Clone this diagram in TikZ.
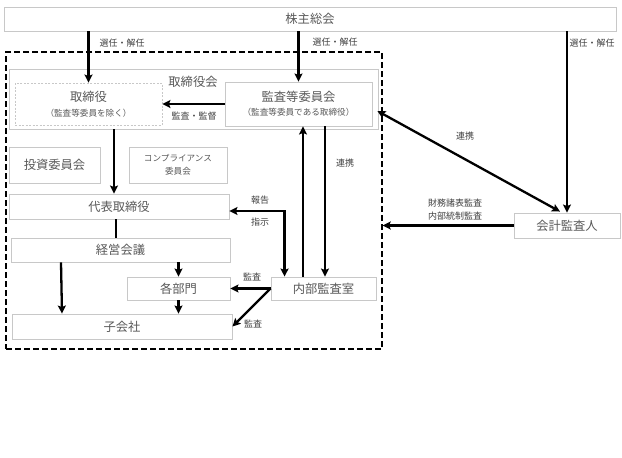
\documentclass[tikz,border=0pt]{standalone}
\usepackage{fontspec}
\setmainfont{Noto Sans CJK JP}
\usetikzlibrary{arrows.meta,calc}
\definecolor{boxline}{HTML}{C8C8C8}
\definecolor{boxtext}{HTML}{595959}
\definecolor{labtext}{HTML}{404040}
\newcommand{\bigf}{\fontsize{12.3}{14}\selectfont}
\newcommand{\subf}{\fontsize{8.6}{10}\selectfont}
\newcommand{\labf}{\fontsize{9}{10}\selectfont}
\tikzset{
  box/.style={draw=boxline, line width=0.9pt, inner sep=0pt, text=boxtext, font=\bigf, align=center, fill=white},
  dotbox/.style={draw=boxline, line width=0.8pt, dash pattern=on 2pt off 1.5pt, inner sep=0pt, text=boxtext, font=\bigf, align=center},
  lab/.style={text=labtext, font=\labf, inner sep=0pt},
  arr/.style={line width=2.3pt, -{Stealth[length=8pt,width=8pt,inset=1.5pt]}},
  darr/.style={line width=2.3pt, {Stealth[length=8pt,width=8pt,inset=1.5pt]}-{Stealth[length=8pt,width=8pt,inset=1.5pt]}},
  plain/.style={line width=2.3pt}
}
\begin{document}
\begin{tikzpicture}[x=1pt,y=-1pt]
\useasboundingbox (0,0) rectangle (622,458);
\fill[white] (0,0) rectangle (622,458);
% dashed company region
\node[draw=black, line width=1.3pt, dash pattern=on 6pt off 3pt, minimum width=376pt, minimum height=297pt, inner sep=0pt] (dash) at (194,200.5) {};
% shareholders
\node[box, minimum width=612pt, minimum height=24pt] (kabu) at (310,19) {株主総会};
% board
\node[box, minimum width=369pt, minimum height=60pt] (board) at (193.5,99) {};
\node[text=boxtext, font=\bigf, inner sep=0pt] (boardlab) at (193,82) {取締役会};
\node[dotbox, minimum width=147pt, minimum height=42pt] (tori) at (88.5,104) {};
\node[text=boxtext, font=\bigf, inner sep=0pt] (toriA) at (88.5,97) {取締役};
\node[text=boxtext, font=\subf, inner sep=0pt] (toriB) at (88.5,113) {（監査等委員を除く）};
\node[box, minimum width=147pt, minimum height=44pt] (kansa) at (298.5,104) {};
\node[text=boxtext, font=\bigf, inner sep=0pt] (kansaA) at (298.5,97) {監査等委員会};
\node[text=boxtext, font=\subf, inner sep=0pt] (kansaB) at (298.5,112.5) {（監査等委員である取締役）};
% committees
\node[box, minimum width=91pt, minimum height=36pt] (toushi) at (54.5,165) {投資委員会};
\node[box, minimum width=98pt, minimum height=36pt, font=\subf] (comp) at (178,165) {コンプライアンス\\[3pt]委員会};
% executive
\node[box, minimum width=220pt, minimum height=25pt] (daihyo) at (119,206.5) {代表取締役};
\node[box, minimum width=219pt, minimum height=24pt] (keiei) at (120.5,250) {経営会議};
\node[box, minimum width=103pt, minimum height=23pt] (bumon) at (178.5,288.5) {各部門};
\node[box, minimum width=220pt, minimum height=25pt] (ko) at (122,326.5) {子会社};
\node[box, minimum width=105pt, minimum height=23pt] (naibu) at (323.5,288.5) {内部監査室};
\node[box, minimum width=106pt, minimum height=25pt] (kaikei) at (567,225.5) {会計監査人};
% labels
\node[lab] (l1) at (122,43) {選任・解任};
\node[lab] (l2) at (335,42) {選任・解任};
\node[lab] (l3) at (592,43) {選任・解任};
\node[lab] (l4) at (194,116) {監査・監督};
\node[lab] (l5) at (260,200) {報告};
\node[lab] (l6) at (260,222) {指示};
\node[lab] (l7) at (252,277) {監査};
\node[lab] (l8) at (253,324) {監査};
\node[lab] (l9) at (345,163) {連携};
\node[lab] (l10) at (465,136) {連携};
\node[lab] (l11) at (455,203) {財務諸表監査};
\node[lab] (l12) at (455,216) {内部統制監査};
% connectors
\draw[arr] (kabu.south -| tori.north) -- (tori.north);
\draw[arr] (kabu.south -| kansa.north) -- (kansa.north);
\draw[arr] (kabu.south -| kaikei.north) -- (kaikei.north);
\draw[arr] (kansa.west) -- (tori.east);
\draw[arr] (board.south -| 114,0) -- (daihyo.north -| 114,0);
\draw[plain] (daihyo.south -| 116,0) -- (keiei.north -| 116,0);
\draw[arr] (keiei.south -| 61,0) -- (ko.north -| 62,0);
\draw[arr] (keiei.south -| bumon.north) -- (bumon.north);
\draw[arr] (bumon.south) -- (ko.north -| bumon.south);
\draw[arr] (naibu.west) -- (bumon.east);
\draw[arr] (naibu.west) -- (ko.east);
\draw[darr] ($(daihyo.east)+(0,4.5)$) -| ($(naibu.north west)+(14,0)$);
\draw[arr] (naibu.north -| 303,0) -- (kansa.south -| 303,0);
\draw[arr] (kansa.south -| 325,0) -- (naibu.north -| 325,0);
\draw[darr] ($(kansa.east)+(5,7)$) -- ($(kaikei.north)+(-7,-1)$);
\draw[arr] (kaikei.west) -- (kaikei.west -| dash.east);
\end{tikzpicture}
\end{document}
